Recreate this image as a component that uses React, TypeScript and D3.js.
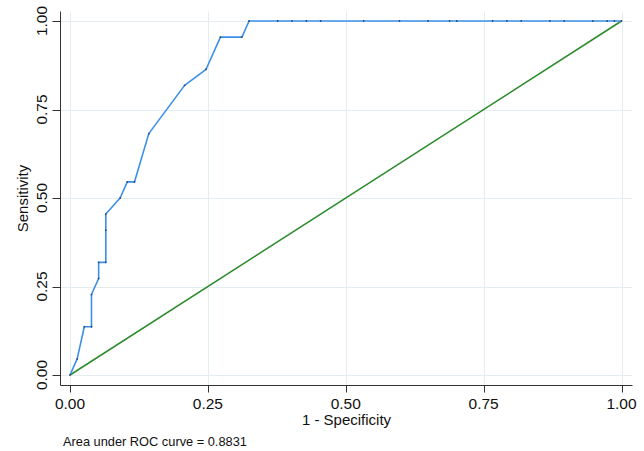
import React from "react";
import * as d3 from "d3";

const nNegatives = 77;
const nPositives = 22;
// cumulative false positives / true positives at each cutoff
const falsePosCounts = [0, 1, 2, 3, 3, 4, 4, 5, 5, 5, 7, 8, 9, 11, 16, 19, 21, 24, 25, 29, 31, 33, 35, 41, 46, 50, 53, 54, 59, 61, 63, 67, 69, 73, 75, 76, 77];
const truePosCounts = [0, 1, 3, 3, 5, 6, 7, 7, 9, 10, 11, 12, 12, 15, 18, 19, 21, 21, 22, 22, 22, 22, 22, 22, 22, 22, 22, 22, 22, 22, 22, 22, 22, 22, 22, 22, 22];
const tickValues = [0, 0.25, 0.5, 0.75, 1];
const xTitle = "1 - Specificity";
const yTitle = "Sensitivity";
const note = "Area under ROC curve = 0.8831";

const W = 644;
const H = 451;
const FONT = "'Liberation Sans', Arial, Helvetica, sans-serif";

export default function App() {
  const x = d3.scaleLinear().domain([0, 1]).range([70, 621.5]);
  const y = d3.scaleLinear().domain([0, 1]).range([375, 21]);
  const pts: [number, number][] = falsePosCounts.map((f, i) => [f / nNegatives, truePosCounts[i] / nPositives]);
  const line = d3.line<[number, number]>().x((d) => x(d[0])).y((d) => y(d[1]));
  const fmt = d3.format(".2f");
  const axisX = 60.5;
  const axisY = 385.5;
  const plotRight = 632.5;
  const plotTop = 11.5;
  const grid = "#e4edf1";

  return (
    <svg width={W} height={H} style={{ position: "absolute", left: 0, top: 0, background: "#fff" }} fontFamily={FONT}>
      <rect x={0} y={0} width={W} height={H} fill="#fff" />
      {tickValues.map((t) => (
        <line key={"gy" + t} x1={axisX} x2={plotRight} y1={Math.round(y(t)) + 0.5} y2={Math.round(y(t)) + 0.5} stroke={grid} strokeWidth={1} />
      ))}
      {tickValues.map((t) => (
        <line key={"gx" + t} y1={plotTop} y2={axisY} x1={Math.round(x(t)) + 0.5} x2={Math.round(x(t)) + 0.5} stroke={grid} strokeWidth={1} />
      ))}
      <path d={line([[0, 0], [1, 1]]) || ""} fill="none" stroke="#2a8a2a" strokeWidth={1.5} />
      <path d={line(pts) || ""} fill="none" stroke="#3b8fe8" strokeWidth={1.6} strokeLinejoin="round" />
      {pts.map((p, i) => (
        <circle key={"m" + i} cx={x(p[0])} cy={y(p[1])} r={0.9} fill="#2a4a6a" />
      ))}
      <line x1={axisX} x2={axisX} y1={plotTop} y2={axisY} stroke="#333" strokeWidth={1} />
      <line x1={axisX} x2={plotRight} y1={axisY} y2={axisY} stroke="#333" strokeWidth={1} />
      {tickValues.map((t) => (
        <g key={"ty" + t}>
          <line x1={axisX - 8} x2={axisX} y1={Math.round(y(t)) + 0.5} y2={Math.round(y(t)) + 0.5} stroke="#333" strokeWidth={1} />
          <text transform={`translate(47,${y(t)}) rotate(-90)`} textAnchor="middle" fontSize={15.5} fill="#111">
            {fmt(t)}
          </text>
        </g>
      ))}
      {tickValues.map((t) => (
        <g key={"tx" + t}>
          <line y1={axisY} y2={axisY + 7} x1={Math.round(x(t)) + 0.5} x2={Math.round(x(t)) + 0.5} stroke="#333" strokeWidth={1} />
          <text x={x(t)} y={409} textAnchor="middle" fontSize={15.5} fill="#111">
            {fmt(t)}
          </text>
        </g>
      ))}
      <text x={(axisX + plotRight) / 2} y={425} textAnchor="middle" fontSize={15} fill="#111">
        {xTitle}
      </text>
      <text transform={`translate(28,${(plotTop + axisY) / 2}) rotate(-90)`} textAnchor="middle" fontSize={15} fill="#111">
        {yTitle}
      </text>
      <text x={63} y={446} fontSize={12.8} fill="#111">
        {note}
      </text>
    </svg>
  );
}
